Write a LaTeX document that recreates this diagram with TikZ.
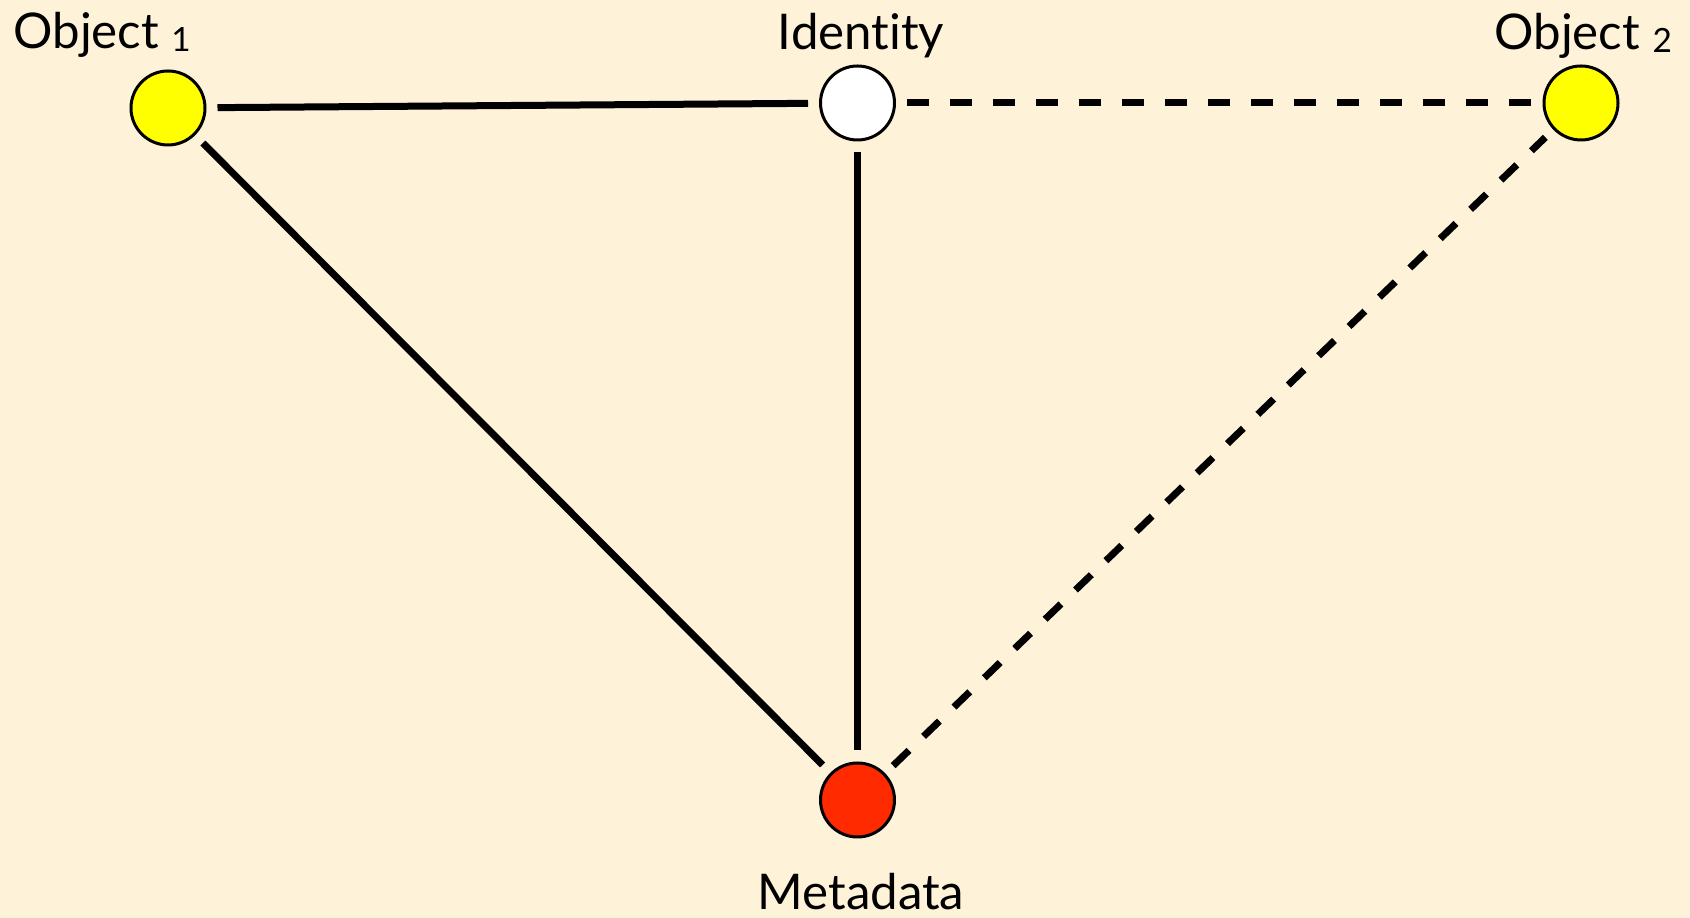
\documentclass[tikz,border=0pt]{standalone}
\usepackage{fontspec}
\setmainfont{Lato}[Ligatures=NoCommon]
\usepackage{tikz}
\usepackage{xcolor}
\definecolor{PaperBG}{HTML}{FEF2D9}
\definecolor{YellowObj}{HTML}{FFFF00}
\definecolor{RedMeta}{HTML}{FF2A00}
\newcommand\lowidx[1]{\raisebox{-0.06cm}{\fontsize{19}{20}\selectfont #1}}
\newcommand\nodeobja{Object \lowidx{1}}
\newcommand\nodeobjb{Object \lowidx{2}}
\newcommand\nodeid{Identity}
\newcommand\nodemeta{Metadata}
\tikzstyle{mycircle} = [circle, minimum size=1.48cm, inner sep=0pt, draw=black, line width=0.06cm]
\tikzstyle{yn} = [mycircle, fill=YellowObj]
\tikzstyle{wn} = [mycircle, fill=white]
\tikzstyle{rn} = [mycircle, fill=RedMeta]
\tikzstyle{lbl} = [inner sep=0pt, text=black, font=\fontsize{28}{33}\selectfont]
\tikzset{every picture/.style={line width=0.14cm},
  link/.style={shorten <=0.22cm, shorten >=0.22cm},
  dlink/.style={link, dash pattern=on 0.44cm off 0.42cm}}
\begin{document}
\begin{tikzpicture}
\fill[PaperBG] (0, 0) rectangle (33.8, 18.36);
\useasboundingbox (0, 0) rectangle (33.8, 18.36);
\node[yn] (o1) at (3.36, 16.2) {};
\node[wn] (id) at (17.15, 16.3) {};
\node[yn] (o2) at (31.62, 16.3) {};
\node[rn] (meta) at (17.15, 2.36) {};
\node[lbl, anchor=base west] (o1lbl) at (0.2, 17.38) {\nodeobja};
\node[lbl, anchor=base] (idlbl) at (17.22, 17.36) {\nodeid};
\node[lbl, anchor=base west] (o2lbl) at (29.82, 17.36) {\nodeobjb};
\node[lbl, anchor=base] (metalbl) at (17.22, 0.16) {\nodemeta};
\draw [link] (o1) -- (id);
\draw [link] (o1) -- (meta);
\draw [link] (id) -- (meta);
\draw [dlink] (id) -- (o2);
\draw [dlink, dash pattern=on 0.44cm off 0.404cm] (meta) -- (o2);
\end{tikzpicture}
\end{document}
